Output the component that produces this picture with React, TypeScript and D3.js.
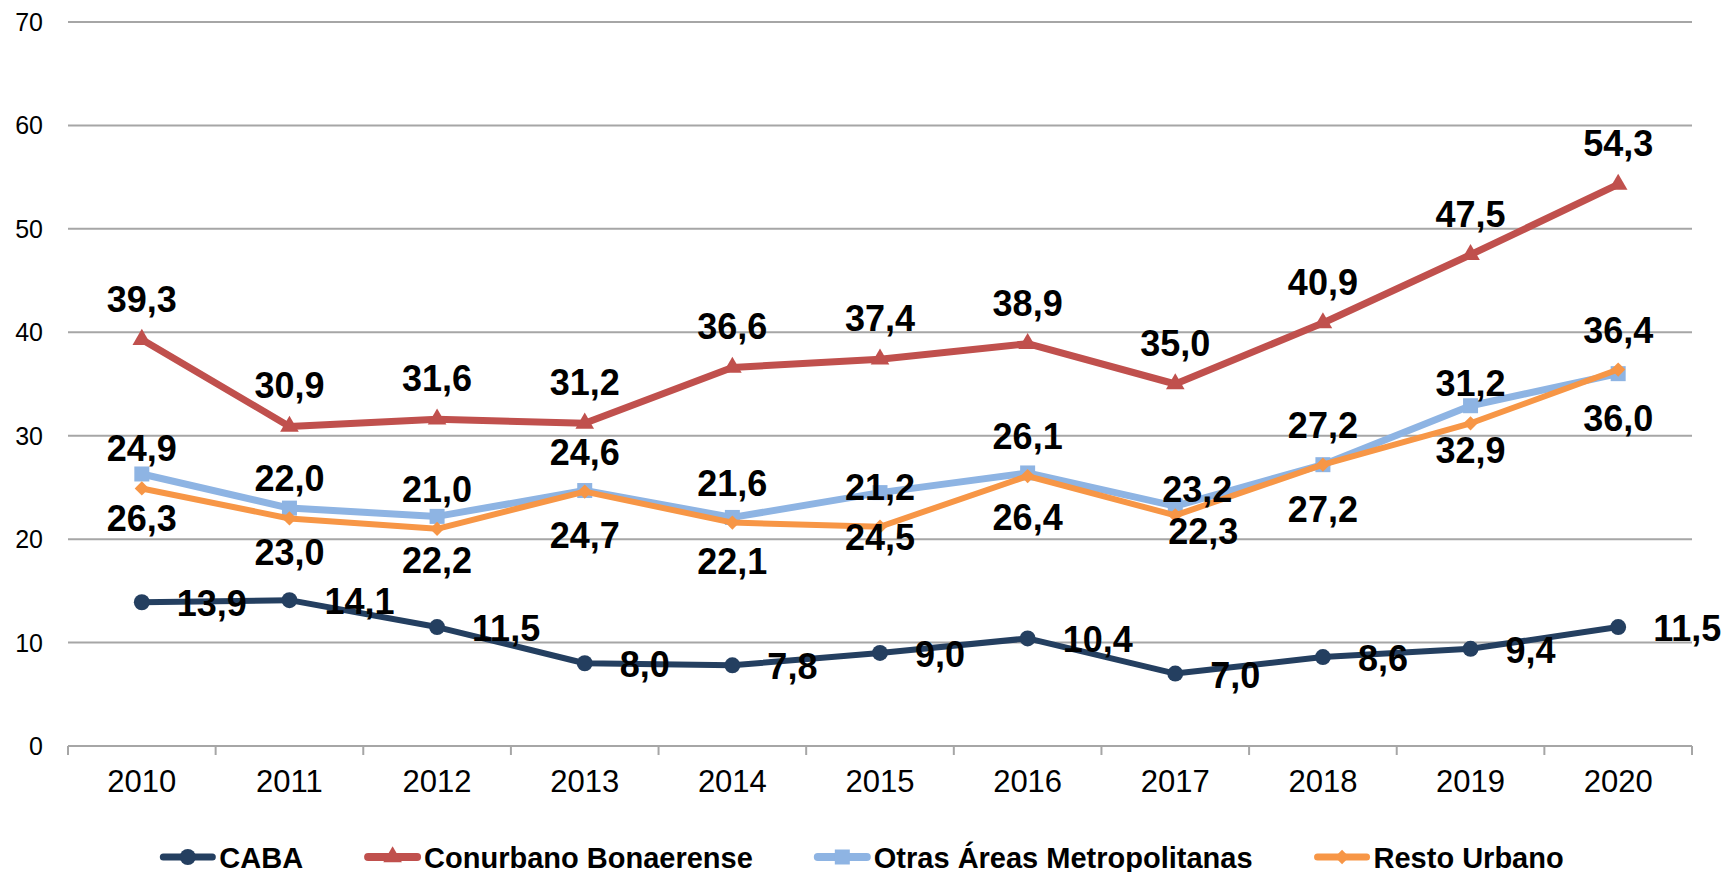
import { useEffect, useRef } from "react";
import * as d3 from "d3";

const years = ["2010", "2011", "2012", "2013", "2014", "2015", "2016", "2017", "2018", "2019", "2020"];
const caba = [13.9, 14.1, 11.5, 8.0, 7.8, 9.0, 10.4, 7.0, 8.6, 9.4, 11.5];
const conurbano = [39.3, 30.9, 31.6, 31.2, 36.6, 37.4, 38.9, 35.0, 40.9, 47.5, 54.3];
const otras = [26.3, 23.0, 22.2, 24.7, 22.1, 24.5, 26.4, 23.2, 27.2, 32.9, 36.0];
const resto = [24.9, 22.0, 21.0, 24.6, 21.6, 21.2, 26.1, 22.3, 27.2, 31.2, 36.4];
const yTicks = [0, 10, 20, 30, 40, 50, 60, 70];

const W = 1728;
const H = 872;
const FONT = "'Liberation Sans', Arial, Helvetica, sans-serif";

// label placement offsets (px) per series
const series = [
    { name: "CABA", values: caba, color: "#243F60", width: 6, symbol: d3.symbolCircle, size: 200, label: { dx: 35, dy: 14, anchor: "start" } },
    { name: "Conurbano Bonaerense", values: conurbano, color: "#C0504D", width: 7, symbol: d3.symbolTriangle, size: 150, label: { dx: 0, dy: -28, anchor: "middle" } },
    { name: "Otras Áreas Metropolitanas", values: otras, color: "#8EB4E3", width: 7, symbol: d3.symbolSquare, size: 225, label: { dx: 0, dy: 57, anchor: "middle" } },
    { name: "Resto Urbano", values: resto, color: "#F79646", width: 6, symbol: d3.symbolDiamond2, size: 130, label: { dx: 0, dy: -27, anchor: "middle" } },
];

// a few labels were moved by hand in the original (index -> [dx, dy])
const labelNudges: Record<string, Record<number, [number, number]>> = {
    "Otras Áreas Metropolitanas": { 7: [22, -4] },
    "Resto Urbano": { 7: [28, 29] },
};

const locale = d3.formatLocale({ decimal: ",", thousands: ".", grouping: [3], currency: ["$", ""] });
const fmt = locale.format(".1f");

const App = () => {
    const svgRef = useRef<SVGSVGElement>(null);

    useEffect(() => {
        const svg = d3.select(svgRef.current);
        svg.selectAll("*").remove();

        const margin = { top: 22, right: 36, bottom: 126, left: 68 };
        const x = d3.scaleBand().domain(years).range([margin.left, W - margin.right]);
        const y = d3.scaleLinear().domain([0, 70]).range([H - margin.bottom, margin.top]);
        const cx = (i: number) => (x(years[i]) as number) + x.bandwidth() / 2;

        svg.append("rect").attr("width", W).attr("height", H).attr("fill", "#fff");

        // grid lines (including the 0 axis)
        svg.append("g")
            .selectAll("line")
            .data(yTicks)
            .join("line")
            .attr("x1", margin.left)
            .attr("x2", W - margin.right)
            .attr("y1", d => y(d))
            .attr("y2", d => y(d))
            .attr("stroke", "#A6A6A6")
            .attr("stroke-width", 2);

        // x tick marks at category boundaries
        const bounds = years.map(d => x(d) as number).concat([W - margin.right]);
        svg.append("g")
            .selectAll("line")
            .data(bounds)
            .join("line")
            .attr("x1", d => d)
            .attr("x2", d => d)
            .attr("y1", y(0))
            .attr("y2", y(0) + 9)
            .attr("stroke", "#A6A6A6")
            .attr("stroke-width", 2);

        // y tick labels
        svg.append("g")
            .selectAll("text")
            .data(yTicks)
            .join("text")
            .attr("x", 43)
            .attr("y", d => y(d) + 9)
            .attr("text-anchor", "end")
            .style("font-family", FONT)
            .style("font-size", "25px")
            .attr("fill", "#000")
            .text(d => d);

        // x tick labels
        svg.append("g")
            .selectAll("text")
            .data(years)
            .join("text")
            .attr("x", (d, i) => cx(i))
            .attr("y", y(0) + 46)
            .attr("text-anchor", "middle")
            .style("font-family", FONT)
            .style("font-size", "31px")
            .attr("fill", "#000")
            .text(d => d);

        const line = d3.line<number>().x((d, i) => cx(i)).y(d => y(d));

        series.forEach(s => {
            const g = svg.append("g");
            g.append("path")
                .datum(s.values)
                .attr("d", line)
                .attr("fill", "none")
                .attr("stroke", s.color)
                .attr("stroke-width", s.width)
                .attr("stroke-linejoin", "round");
            g.selectAll("path.marker")
                .data(s.values)
                .join("path")
                .attr("class", "marker")
                .attr("transform", (d, i) => `translate(${cx(i)},${y(d)})`)
                .attr("d", d3.symbol().type(s.symbol).size(s.size)())
                .attr("fill", s.color);
        });

        // data labels on top
        series.forEach(s => {
            const nudge = labelNudges[s.name] || {};
            svg.append("g")
                .selectAll("text")
                .data(s.values)
                .join("text")
                .attr("x", (d, i) => cx(i) + (nudge[i] ? nudge[i][0] : s.label.dx))
                .attr("y", (d, i) => y(d) + (nudge[i] ? nudge[i][1] : s.label.dy))
                .attr("text-anchor", s.label.anchor)
                .style("font-family", FONT)
                .style("font-size", "36px")
                .style("font-weight", "bold")
                .attr("fill", "#000")
                .text(d => fmt(d));
        });

        // legend
        const legend = svg.append("g");
        const lineLen = 55;
        const gap = 62;
        const items = series.map(s => {
            const g = legend.append("g");
            g.append("line")
                .attr("x1", 3).attr("x2", lineLen - 3)
                .attr("y1", 0).attr("y2", 0)
                .attr("stroke", s.color)
                .attr("stroke-width", s.width + 1)
                .attr("stroke-linecap", "round");
            g.append("path")
                .attr("transform", `translate(${lineLen / 2},0)`)
                .attr("d", d3.symbol().type(s.symbol).size(s.size)())
                .attr("fill", s.color);
            const t = g.append("text")
                .attr("x", lineLen + 4)
                .attr("y", 11)
                .style("font-family", FONT)
                .style("font-size", "29px")
                .style("font-weight", "bold")
                .attr("fill", "#000")
                .text(s.name);
            const w = lineLen + 4 + (t.node() as SVGTextElement).getComputedTextLength();
            return { g, w };
        });
        const total = d3.sum(items, d => d.w) + gap * (items.length - 1);
        let pos = 862 - total / 2;
        items.forEach(it => {
            it.g.attr("transform", `translate(${pos},857)`);
            pos += it.w + gap;
        });
    }, []);

    return (
        <svg
            ref={svgRef}
            width={W}
            height={H}
            style={{ position: "absolute", left: 0, top: 0, display: "block" }}
        ></svg>
    );
};

export default App;
